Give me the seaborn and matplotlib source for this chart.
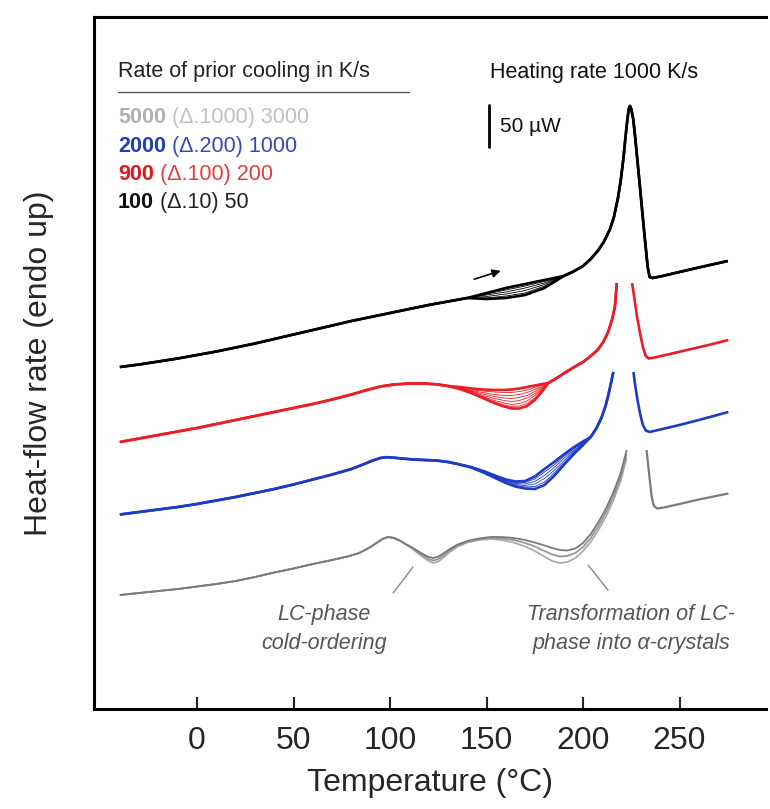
import numpy as np
import seaborn as sns
import matplotlib.pyplot as plt

# temperatures in degC, heat-flow in arbitrary units (42 units = 50 uW)

# black family, prior cooling 100 (d.10) 50 K/s
BLACK_HEAD_T = [-40, -30, -20, -10, 0, 10, 20, 30, 40, 50, 60, 70, 80, 90, 100, 110, 120, 130, 140]
BLACK_HEAD_H = [342, 344.5, 347.5, 350.5, 354, 357.5, 361.5, 365.5, 370, 374.5, 379, 383.5, 388, 392, 396,
                400, 404, 407.5, 411]
BLACK_FAN_T = [140, 150, 160, 170, 180, 190]
BLACK_FAN_H = [
    [411, 416, 421, 425, 429, 433],
    [411, 415, 419, 423, 427.5, 433],
    [411, 414, 417, 421, 426, 433],
    [411, 412.5, 415, 418.5, 424.5, 433],
    [411, 411, 413, 416, 423, 433],
    [411, 410, 411, 414, 421, 433],
]
BLACK_PEAK_T = [190, 195, 200, 204, 208, 211, 214, 216, 218, 219.5, 221, 222, 223, 223.7, 224.3, 225, 226, 227,
                228, 229.5, 231, 232.5, 233.5, 234.5, 236, 240, 250, 260, 275]
BLACK_PEAK_H = [433, 437.5, 443, 450, 459, 468, 480, 492, 510, 528, 552, 572, 590, 600, 603, 600, 590, 572,
                552, 522, 491, 461, 442, 432, 431, 432.5, 437, 441.5, 448]

# red family, 900 (d.100) 200 K/s
RED_HEAD_T = [-40, -30, -20, -10, 0, 10, 20, 30, 40, 50, 60, 70, 80, 88, 95, 102, 110, 118, 125, 130]
RED_HEAD_H = [267, 270.5, 274, 277.5, 281, 285, 289, 293, 297, 301, 305, 309.5, 314.5, 319, 322.5, 324.5,
              325.5, 325.5, 324.5, 323]
RED_FAN_T = [130, 136, 142, 148, 154, 159, 163, 167, 171, 175, 179, 182]
RED_FAN_H = [
    [323, 322, 320.5, 319.5, 319, 319, 319.5, 320.5, 322, 323.5, 325, 326],
    [323, 321.5, 319.5, 318, 317, 316.5, 316.5, 317.5, 319, 321.5, 324, 326],
    [323, 321, 318.5, 316.5, 314.5, 313.5, 313.5, 314.5, 316.5, 319.5, 323, 326],
    [323, 321, 318, 315, 312.5, 311, 310.5, 311.5, 313.5, 317.5, 322, 326],
    [323, 320.5, 317.5, 313.5, 310.5, 308.5, 307.5, 308.5, 311, 315.5, 321, 326],
    [323, 320.5, 317, 312.5, 308.5, 306, 304.5, 305.5, 308, 313.5, 320, 326],
    [323, 320, 316.5, 311.5, 307, 304, 302.5, 303, 305.5, 311, 319, 326],
    [323, 320, 316, 311, 306, 302.5, 300.5, 300.5, 303, 309, 318, 326],
]
RED_RISE_T = [182, 186, 190, 195, 200, 204, 207.5, 210.5, 213, 215, 216.5, 217.5]
RED_RISE_H = [326, 330.5, 335.5, 341.5, 347, 353, 359, 367, 377, 389, 402, 426]
RED_TAIL_T = [225.4, 226.5, 228, 229.5, 231, 232.5, 234, 237, 245, 255, 265, 275.3]
RED_TAIL_H = [426, 412, 392, 376, 362, 353, 350.5, 351.5, 355, 359.5, 364, 369]

# blue family, 2000 (d.200) 1000 K/s
BLUE_HEAD_T = [-40, -30, -20, -10, 0, 10, 20, 30, 40, 50, 60, 70, 80, 86, 91, 95, 98, 101, 106, 112, 118,
               124, 130, 135]
BLUE_HEAD_H = [194.5, 197, 199.5, 202, 205, 208.5, 212, 216, 220, 224.5, 229.5, 234.5, 240, 244.5, 248.5,
               251, 251.8, 251.5, 250.5, 249.5, 249, 248.5, 247, 245]
BLUE_FAN_T = [135, 142, 149, 155, 160, 165, 170, 175, 180, 185, 190, 195, 200, 204]
BLUE_FAN_H = [
    [245, 242, 237.5, 233, 229.5, 227.5, 228, 232.5, 240, 247, 254.5, 261.5, 267.5, 272],
    [245, 242, 237, 232.5, 229, 226.5, 226.5, 230, 237, 244, 252.5, 260, 267, 272],
    [245, 242, 237, 232, 228, 225.5, 225, 227.5, 233.5, 241.5, 250.5, 258.5, 266, 272],
    [245, 241.5, 236.5, 231.5, 227.5, 224.5, 223.5, 225, 230.5, 238.5, 248, 257.5, 265.5, 272],
    [245, 241.5, 236.5, 231, 226.5, 223.5, 222, 222.5, 227, 236, 246, 256, 264.5, 272],
    [245, 241.5, 236, 230.5, 226, 222.5, 220.5, 220, 224, 233, 244, 254.5, 264, 272],
]
BLUE_RISE_T = [204, 207, 209.5, 211.5, 213, 214.5, 215.7]
BLUE_RISE_H = [272, 281, 291, 302, 313, 326, 337]
BLUE_TAIL_T = [226.1, 227, 228.3, 229.7, 231, 232.5, 234.5, 240, 250, 260, 275.3]
BLUE_TAIL_H = [337, 324, 308, 294, 284, 278.5, 277, 279.5, 284, 289, 297]

# gray family, 5000 (d.1000) 3000 K/s
GRAY_HEAD_T = [-40, -30, -20, -10, 0, 10, 20, 30, 40, 50, 60, 70, 78, 84, 89, 93, 96, 99, 102, 105, 108]
GRAY_HEAD_H = [114, 116, 118, 120, 122.5, 125, 128, 132, 136.5, 140.5, 145, 149, 152.5, 156, 161, 166, 170,
               172, 171, 168.5, 165]
GRAY_BODY_T = [108, 111, 114, 117, 120, 122.5, 125, 128, 131, 135, 140, 146, 152, 158, 164, 170, 175, 180,
               184, 188, 192, 196, 200, 204, 208, 212, 216, 219.5, 222.6]
GRAY_BODY_H = [
    [165, 162, 158.5, 155, 152, 151, 152.5, 156, 160, 164.5, 168, 170.5, 172, 172, 171, 169, 166.5, 163.5,
     161, 159, 158.5, 160.5, 166, 175, 187, 201, 218, 236, 259],
    [165, 161.5, 157.5, 153.5, 150, 148.5, 150, 154, 158.5, 163.5, 167, 170, 171, 170.5, 169, 166, 162.5, 158,
     154.5, 152.5, 153, 156, 162, 171, 183, 197, 214, 232, 255],
    [165, 161, 156.5, 152, 148, 146, 147.5, 152, 157, 162.5, 166.5, 169, 170, 169, 166.5, 162.5, 158, 152.5,
     148, 146, 147, 151, 158, 167, 179, 193, 210, 228, 251],
]
GRAY_TAIL_T = [232.9, 233.8, 234.7, 235.6, 236.7, 238.5, 242, 250, 260, 275.3]
GRAY_TAIL_H = [259, 243, 227, 212, 203, 200.5, 201.5, 205, 209.5, 215.5]

X_TICKS = [0, 50, 100, 150, 200, 250]

BLACK = '#000000'
RED = '#ee1c24'
BLUE = '#1c3cc4'
GRAYS = ['#7a7a7a', '#979797', '#ababab']

sns.set_style('white')
plt.rcParams['font.family'] = ['Liberation Sans', 'DejaVu Sans']

fig = plt.figure(figsize=(7.7, 8.09), dpi=100)
ax = fig.add_axes([94 / 770, 1 - 709 / 809, 672 / 770, 692 / 809])


def draw(t, h, color, lw):
    sns.lineplot(x=np.asarray(t, float), y=np.asarray(h, float), color=color, lw=lw,
                 sort=False, estimator=None, ax=ax, solid_capstyle='butt', solid_joinstyle='round')


def family(head_t, head_h, fan_t, fans, rise_t, rise_h, color):
    n = len(fans)
    for i, fh in enumerate(fans):
        t = head_t + fan_t[1:] + rise_t[1:]
        h = head_h + fh[1:] + rise_h[1:]
        lw = 1.9 if i in (0, n - 1) else 0.6
        draw(t, h, color, lw)


family(BLACK_HEAD_T, BLACK_HEAD_H, BLACK_FAN_T, BLACK_FAN_H, BLACK_PEAK_T, BLACK_PEAK_H, BLACK)
family(RED_HEAD_T, RED_HEAD_H, RED_FAN_T, RED_FAN_H, RED_RISE_T, RED_RISE_H, RED)
draw(RED_TAIL_T, RED_TAIL_H, RED, 1.9)
family(BLUE_HEAD_T, BLUE_HEAD_H, BLUE_FAN_T, BLUE_FAN_H, BLUE_RISE_T, BLUE_RISE_H, BLUE)
draw(BLUE_TAIL_T, BLUE_TAIL_H, BLUE, 1.9)
for gh, gc in zip(GRAY_BODY_H[::-1], GRAYS[::-1]):
    draw(GRAY_HEAD_T + GRAY_BODY_T[1:], GRAY_HEAD_H + gh[1:], gc, 1.3)
draw(GRAY_TAIL_T, GRAY_TAIL_H, GRAYS[0], 1.6)

ax.set_xlim(-53.4, 294.8)
ax.set_ylim(0, 692)
ax.set_xticks(X_TICKS)
ax.set_yticks([])
ax.tick_params(axis='x', direction='in', length=9, width=1.5, labelsize=23, pad=12, bottom=True)
for s in ['top', 'left', 'bottom']:
    ax.spines[s].set_linewidth(2.2)
    ax.spines[s].set_color('black')
ax.spines['right'].set_visible(False)
ax.set_xlabel('Temperature (°C)', fontsize=23, labelpad=9)
ax.set_ylabel('Heat-flow rate (endo up)', fontsize=23)
ax.yaxis.set_label_coords(-0.06, 0.5)

# legend block
ax.text(-40.9, 637, 'Rate of prior cooling in K/s', fontsize=15.5, va='center', ha='left', color='#222222')
ax.plot([-40.9, 110], [617, 617], color='#555555', lw=1)
rows = [('5000', ' (Δ.1000) 3000', '#b0b0b0', '#c0c0c0', 591),
        ('2000', ' (Δ.200) 1000', '#1f3fbf', '#3548c0', 562),
        ('900', ' (Δ.100) 200', '#e8141c', '#e63c3c', 534),
        ('100', ' (Δ.10) 50', '#111111', '#222222', 506)]
for bold, rest, c1, c2, yy in rows:
    t1 = ax.text(-40.9, yy, bold, fontsize=15.5, fontweight='bold', color=c1, va='center', ha='left')
    ax.annotate(rest, xy=(1, 0), xycoords=t1, xytext=(0, 0), textcoords='offset points',
                fontsize=15.5, color=c2, va='bottom', ha='left')

ax.text(151.8, 636, 'Heating rate 1000 K/s', fontsize=15.5, va='center', ha='left', color='#111111')
ax.plot([151.3, 151.3], [562, 604], color='black', lw=2)
ax.text(157, 582, '50 µW', fontsize=15, va='center', ha='left', color='#111111')

ax.annotate('', xy=(158.7, 439), xytext=(142.3, 429),
            arrowprops=dict(arrowstyle='-|>', color='black', lw=1.2, mutation_scale=12))

ax.text(66, 80, 'LC-phase\ncold-ordering', fontsize=15.5, style='italic', color='#555555',
        ha='center', va='center', linespacing=1.45)
ax.plot([101.6, 111.9], [116, 142], color='#888888', lw=1)
ax.text(225, 80, 'Transformation of LC-\nphase into α-crystals', fontsize=15.5, style='italic',
        color='#555555', ha='center', va='center', linespacing=1.45)
ax.plot([202.6, 212.9], [144, 119], color='#888888', lw=1)

fig.savefig('out.png', dpi=100)
